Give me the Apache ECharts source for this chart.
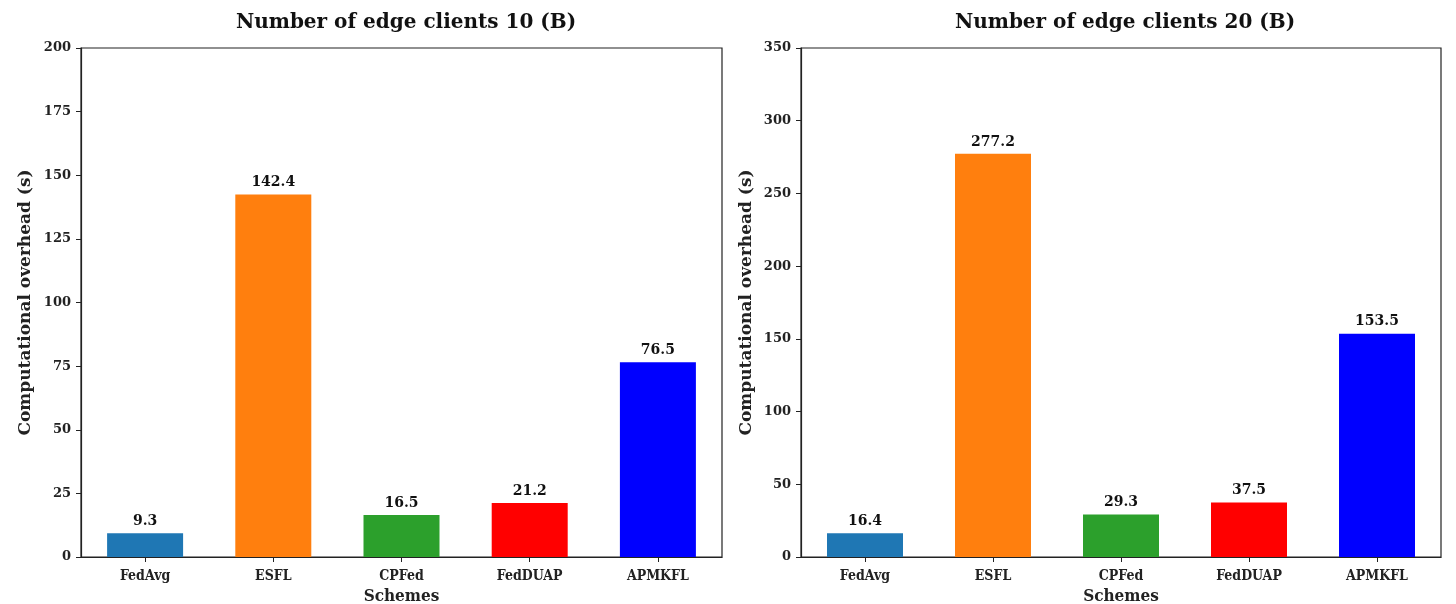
<!DOCTYPE html>
<html><head><meta charset="utf-8">
<script src="https://cdn.jsdelivr.net/npm/echarts@6/dist/echarts.min.js"></script>
<style>html,body{margin:0;padding:0;background:#fff}#c{width:1456px;height:604px}</style>
</head><body><div id="c"></div>
<script>
const categories = ['FedAvg', 'ESFL', 'CPFed', 'FedDUAP', 'APMKFL'];
const values10 = [9.3, 142.4, 16.5, 21.2, 76.5];
const values20 = [16.4, 277.2, 29.3, 37.5, 153.5];
const colors = ['#1f77b4', '#ff7f0e', '#2ca02c', '#ff0000', '#0000ff'];
const titles = ['Number of edge clients 10 (B)', 'Number of edge clients 20 (B)'];
const yMax = [200, 350];
const yInterval = [25, 50];

const SERIF = '"DejaVu Serif", serif';
const COND = '"DejaVu Serif Condensed", "DejaVu Serif", serif';
const chart = echarts.init(document.getElementById('c'));
const grids = [
  {left: 81, top: 48, width: 641, height: 509},
  {left: 801, top: 48, width: 640, height: 509}
];
function xAxis(i) {
  return {
    type: 'category', gridIndex: i, data: categories,
    name: 'Schemes', nameLocation: 'middle', nameGap: 29,
    nameTextStyle: {fontFamily: COND, fontWeight: 'bold', fontSize: 17, color: '#222'},
    axisLine: {lineStyle: {color: '#222', width: 1.2}},
    axisTick: {show: true, alignWithLabel: true, length: 5, lineStyle: {color: '#222'}},
    axisLabel: {fontFamily: COND, fontWeight: 'bold', fontSize: 14, color: '#222', margin: 12}
  };
}
function yAxis(i) {
  return {
    type: 'value', gridIndex: i, min: 0, max: yMax[i], interval: yInterval[i],
    name: 'Computational overhead (s)', nameLocation: 'middle', nameGap: i === 0 ? 47 : 46,
    nameTextStyle: {fontFamily: SERIF, fontWeight: 'bold', fontSize: 17, color: '#222'},
    axisLine: {show: true, lineStyle: {color: '#222', width: 1.2}},
    axisTick: {show: true, length: 5, lineStyle: {color: '#222'}},
    splitLine: {show: false},
    axisLabel: {fontFamily: SERIF, fontWeight: 'bold', fontSize: 13, color: '#222', margin: 10}
  };
}
function series(i, vals) {
  return {
    type: 'bar', xAxisIndex: i, yAxisIndex: i, barWidth: 76,
    data: vals.map((v, k) => ({value: v, itemStyle: {color: colors[k]}})),
    label: {show: true, position: 'top', distance: 5, fontFamily: SERIF, fontWeight: 'bold', fontSize: 14, color: '#111',
      formatter: p => p.value.toFixed(1)}
  };
}
chart.setOption({
  animation: false,
  title: [
    {text: titles[0], left: 401, top: 8, textAlign: 'center', textStyle: {fontFamily: SERIF, fontWeight: 'bold', fontSize: 20, color: '#111'}},
    {text: titles[1], left: 1120, top: 8, textAlign: 'center', textStyle: {fontFamily: SERIF, fontWeight: 'bold', fontSize: 20, color: '#111'}}
  ],
  grid: grids.map(g => Object.assign({show: true, borderColor: '#222', borderWidth: 1.2, backgroundColor: 'transparent', outerBoundsMode: 'none', containLabel: false}, g)),
  xAxis: [xAxis(0), xAxis(1)],
  yAxis: [yAxis(0), yAxis(1)],
  series: [series(0, values10), series(1, values20)]
});
</script></body></html>
